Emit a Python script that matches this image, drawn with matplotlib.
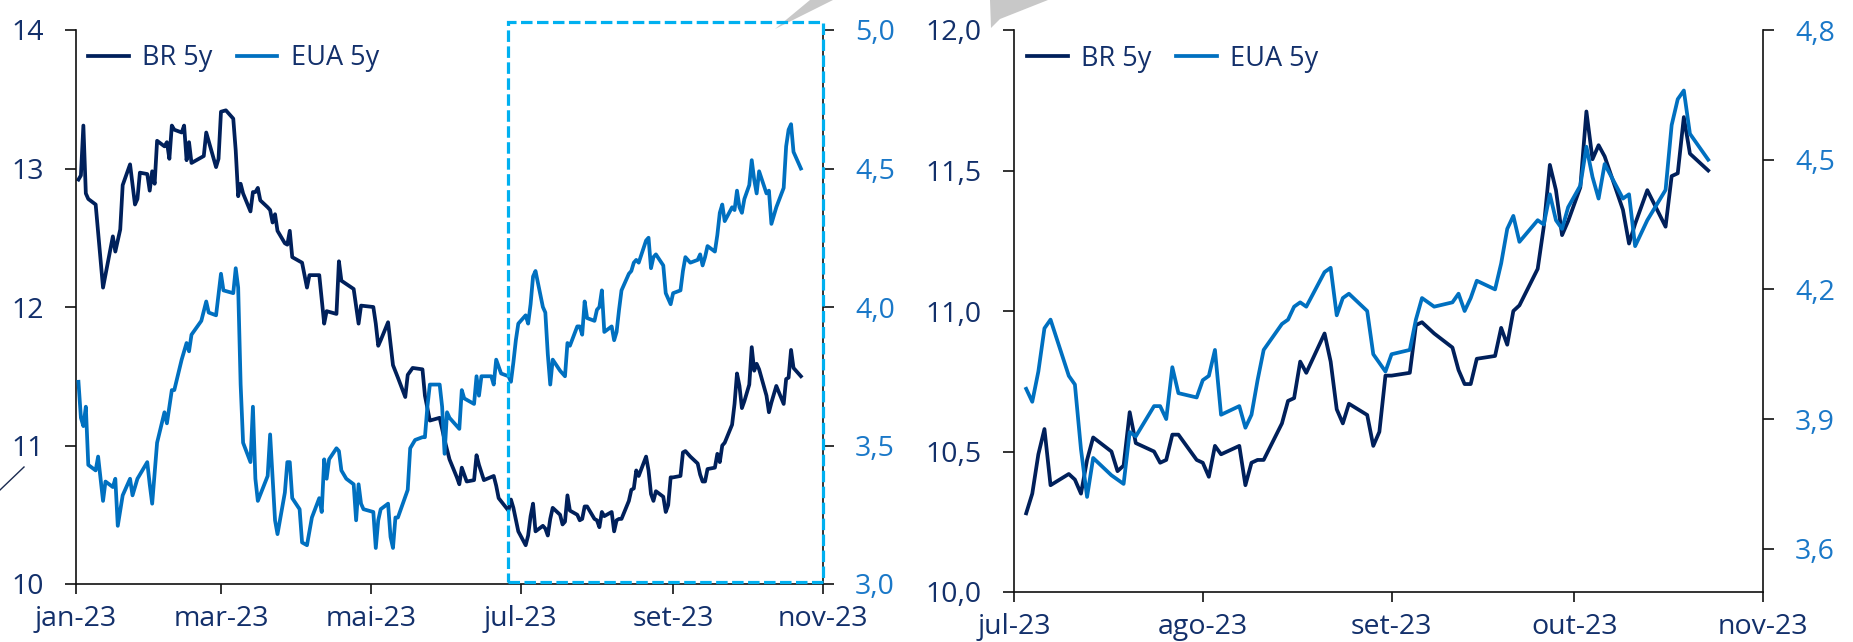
import matplotlib
matplotlib.use('Agg')
import matplotlib.pyplot as plt
from matplotlib.patches import Rectangle, Polygon
from matplotlib.lines import Line2D
import pandas as pd

plt.rcParams['font.family'] = ['Open Sans', 'DejaVu Sans']

NAVY = '#00205B'
BLUE = '#0070C0'
LABEL_NAVY = '#13306B'
LABEL_BLUE = '#1A78C8'
BOX = '#00B0F0'

# ---------------- data: 1st half 2023 (left chart only) ----------------
br_h1_dates = ['2023-01-02', '2023-01-03', '2023-01-04', '2023-01-05', '2023-01-06', '2023-01-09',
               '2023-01-12', '2023-01-16', '2023-01-17', '2023-01-19', '2023-01-20', '2023-01-23',
               '2023-01-25', '2023-01-26', '2023-01-27', '2023-01-30', '2023-01-31', '2023-02-01',
               '2023-02-02', '2023-02-03', '2023-02-06', '2023-02-07', '2023-02-08', '2023-02-09',
               '2023-02-10', '2023-02-13', '2023-02-14', '2023-02-15', '2023-02-16', '2023-02-17',
               '2023-02-22', '2023-02-23', '2023-02-27', '2023-02-28', '2023-03-01', '2023-03-03',
               '2023-03-06', '2023-03-07', '2023-03-08', '2023-03-09', '2023-03-10', '2023-03-13',
               '2023-03-14', '2023-03-15', '2023-03-16', '2023-03-17', '2023-03-20', '2023-03-21',
               '2023-03-22', '2023-03-23', '2023-03-24', '2023-03-27', '2023-03-28', '2023-03-29',
               '2023-03-30', '2023-04-03', '2023-04-05', '2023-04-06', '2023-04-10', '2023-04-12',
               '2023-04-13', '2023-04-17', '2023-04-18', '2023-04-19', '2023-04-24', '2023-04-26',
               '2023-04-27', '2023-05-02', '2023-05-03', '2023-05-04', '2023-05-05', '2023-05-08',
               '2023-05-10', '2023-05-12', '2023-05-15', '2023-05-16', '2023-05-18', '2023-05-22',
               '2023-05-23', '2023-05-25', '2023-05-29', '2023-05-31', '2023-06-02', '2023-06-05',
               '2023-06-06', '2023-06-07', '2023-06-09', '2023-06-12', '2023-06-13', '2023-06-14',
               '2023-06-16', '2023-06-20', '2023-06-21', '2023-06-22', '2023-06-26', '2023-06-27',
               '2023-06-28', '2023-06-30']
br_h1 = [12.92, 12.95, 13.31, 12.82, 12.78, 12.74,
         12.14, 12.51, 12.40, 12.56, 12.88, 13.03,
         12.74, 12.78, 12.97, 12.96, 12.84, 12.98,
         12.89, 13.20, 13.16, 13.19, 13.07, 13.31,
         13.28, 13.26, 13.31, 13.06, 13.19, 13.04,
         13.09, 13.26, 13.01, 13.07, 13.41, 13.42,
         13.36, 13.13, 12.80, 12.89, 12.82, 12.69,
         12.83, 12.83, 12.86, 12.77, 12.72, 12.70,
         12.61, 12.67, 12.55, 12.46, 12.45, 12.55,
         12.36, 12.32, 12.14, 12.23, 12.23, 11.88,
         11.97, 11.95, 12.33, 12.19, 12.13, 11.88,
         12.01, 12.00, 11.88, 11.72, 11.76, 11.89,
         11.58, 11.49, 11.35, 11.51, 11.56, 11.55,
         11.36, 11.18, 11.20, 11.04, 10.90, 10.77,
         10.72, 10.84, 10.74, 10.75, 10.93, 10.86,
         10.75, 10.78, 10.71, 10.62, 10.53, 10.61,
         10.55, 10.38]

eua_h1_dates = ['2023-01-02', '2023-01-03', '2023-01-04', '2023-01-05', '2023-01-06', '2023-01-09',
                '2023-01-10', '2023-01-12', '2023-01-13', '2023-01-16', '2023-01-17', '2023-01-18',
                '2023-01-20', '2023-01-23', '2023-01-24', '2023-01-26', '2023-01-30', '2023-01-31',
                '2023-02-01', '2023-02-03', '2023-02-06', '2023-02-07', '2023-02-09', '2023-02-10',
                '2023-02-13', '2023-02-15', '2023-02-16', '2023-02-17', '2023-02-21', '2023-02-23',
                '2023-02-24', '2023-02-27', '2023-03-01', '2023-03-02', '2023-03-06', '2023-03-07',
                '2023-03-08', '2023-03-09', '2023-03-10', '2023-03-13', '2023-03-14', '2023-03-15',
                '2023-03-16', '2023-03-20', '2023-03-21', '2023-03-23', '2023-03-24', '2023-03-27',
                '2023-03-28', '2023-03-29', '2023-03-30', '2023-04-02', '2023-04-03', '2023-04-05',
                '2023-04-07', '2023-04-10', '2023-04-11', '2023-04-12', '2023-04-13', '2023-04-14',
                '2023-04-17', '2023-04-18', '2023-04-19', '2023-04-21', '2023-04-24', '2023-04-25',
                '2023-04-26', '2023-04-27', '2023-04-28', '2023-05-02', '2023-05-03', '2023-05-04',
                '2023-05-05', '2023-05-08', '2023-05-09', '2023-05-10', '2023-05-11', '2023-05-12',
                '2023-05-16', '2023-05-17', '2023-05-19', '2023-05-22', '2023-05-23', '2023-05-24',
                '2023-05-25', '2023-05-29', '2023-05-30', '2023-05-31', '2023-06-01', '2023-06-02',
                '2023-06-06', '2023-06-07', '2023-06-08', '2023-06-12', '2023-06-13', '2023-06-14',
                '2023-06-15', '2023-06-19', '2023-06-20', '2023-06-21', '2023-06-23', '2023-06-26',
                '2023-06-27', '2023-06-28', '2023-06-29', '2023-06-30']
eua_h1 = [3.73, 3.60, 3.57, 3.64, 3.43, 3.41,
          3.46, 3.30, 3.37, 3.35, 3.38, 3.21,
          3.32, 3.38, 3.32, 3.38, 3.44, 3.36,
          3.29, 3.51, 3.62, 3.58, 3.70, 3.70,
          3.81, 3.87, 3.84, 3.90, 3.95, 4.02,
          3.98, 3.97, 4.12, 4.06, 4.05, 4.14,
          4.07, 3.72, 3.51, 3.44, 3.64, 3.38,
          3.30, 3.39, 3.54, 3.23, 3.18, 3.33,
          3.44, 3.44, 3.31, 3.27, 3.15, 3.14,
          3.24, 3.31, 3.26, 3.45, 3.38, 3.45,
          3.49, 3.48, 3.41, 3.38, 3.36, 3.23,
          3.36, 3.29, 3.27, 3.26, 3.13, 3.23,
          3.27, 3.29, 3.17, 3.13, 3.24, 3.24,
          3.34, 3.49, 3.52, 3.53, 3.53, 3.64,
          3.72, 3.72, 3.64, 3.47, 3.62, 3.60,
          3.56, 3.70, 3.67, 3.65, 3.75, 3.68,
          3.75, 3.75, 3.72, 3.81, 3.76, 3.75,
          3.73, 3.80, 3.88, 3.94]

# ---------------- data: Jul-Oct 2023 (both charts) ----------------
h2_dates = ['2023-07-03', '2023-07-04', '2023-07-05', '2023-07-06', '2023-07-07', '2023-07-10',
            '2023-07-11', '2023-07-12', '2023-07-13', '2023-07-14', '2023-07-17', '2023-07-18',
            '2023-07-19', '2023-07-20', '2023-07-21', '2023-07-24', '2023-07-25', '2023-07-26',
            '2023-07-27', '2023-07-28', '2023-07-31', '2023-08-01', '2023-08-02', '2023-08-03',
            '2023-08-04', '2023-08-07', '2023-08-08', '2023-08-09', '2023-08-10', '2023-08-11',
            '2023-08-14', '2023-08-15', '2023-08-16', '2023-08-17', '2023-08-18', '2023-08-21',
            '2023-08-22', '2023-08-23', '2023-08-24', '2023-08-25', '2023-08-28', '2023-08-29',
            '2023-08-30', '2023-08-31', '2023-09-01', '2023-09-04', '2023-09-05', '2023-09-06',
            '2023-09-08', '2023-09-11', '2023-09-12', '2023-09-13', '2023-09-14', '2023-09-15',
            '2023-09-18', '2023-09-19', '2023-09-20', '2023-09-21', '2023-09-22', '2023-09-25',
            '2023-09-26', '2023-09-27', '2023-09-28', '2023-09-29', '2023-09-30', '2023-10-02',
            '2023-10-03', '2023-10-04', '2023-10-05', '2023-10-06', '2023-10-09', '2023-10-10',
            '2023-10-11', '2023-10-13', '2023-10-16', '2023-10-17', '2023-10-18', '2023-10-19',
            '2023-10-20', '2023-10-23']
br_h2 = [10.28, 10.35, 10.49, 10.58, 10.38, 10.42,
         10.40, 10.35, 10.47, 10.55, 10.50, 10.43,
         10.45, 10.64, 10.53, 10.50, 10.46, 10.47,
         10.56, 10.56, 10.47, 10.46, 10.41, 10.52,
         10.49, 10.52, 10.38, 10.46, 10.47, 10.47,
         10.60, 10.68, 10.69, 10.82, 10.78, 10.92,
         10.82, 10.65, 10.60, 10.67, 10.63, 10.52,
         10.57, 10.77, 10.77, 10.78, 10.95, 10.96,
         10.92, 10.87, 10.79, 10.74, 10.74, 10.83,
         10.84, 10.94, 10.88, 11.00, 11.02, 11.15,
         11.30, 11.52, 11.43, 11.27, 11.32, 11.44,
         11.71, 11.54, 11.59, 11.55, 11.36, 11.24,
         11.31, 11.43, 11.30, 11.48, 11.49, 11.69,
         11.56, 11.50]
eua_h2 = [3.97, 3.94, 4.01, 4.11, 4.13, 4.00,
          3.98, 3.83, 3.72, 3.81, 3.77, 3.76,
          3.75, 3.87, 3.86, 3.93, 3.93, 3.90,
          4.02, 3.96, 3.95, 3.99, 4.00, 4.06,
          3.91, 3.93, 3.88, 3.91, 3.99, 4.06,
          4.12, 4.13, 4.16, 4.17, 4.16, 4.24,
          4.25, 4.14, 4.18, 4.19, 4.15, 4.05,
          4.03, 4.01, 4.05, 4.06, 4.13, 4.18,
          4.16, 4.17, 4.19, 4.15, 4.18, 4.22,
          4.20, 4.26, 4.34, 4.37, 4.31, 4.36,
          4.35, 4.42, 4.36, 4.34, 4.39, 4.44,
          4.53, 4.46, 4.41, 4.49, 4.41, 4.42,
          4.30, 4.36, 4.43, 4.58, 4.64, 4.66,
          4.56, 4.50]

series_names = ['BR 5y', 'EUA 5y']

# axis ticks / labels
left_xticks = ['2023-01-01', '2023-03-01', '2023-05-01', '2023-07-01', '2023-09-01', '2023-11-01']
left_xlabels = ['jan-23', 'mar-23', 'mai-23', 'jul-23', 'set-23', 'nov-23']
left_y1_ticks = [10, 11, 12, 13, 14]
left_y1_labels = ['10', '11', '12', '13', '14']
left_y2_ticks = [3.0, 3.5, 4.0, 4.5, 5.0]
left_y2_labels = ['3,0', '3,5', '4,0', '4,5', '5,0']

right_xticks = ['2023-07-01', '2023-08-01', '2023-09-01', '2023-10-01', '2023-11-01']
right_xlabels = ['jul-23', 'ago-23', 'set-23', 'out-23', 'nov-23']
right_y1_ticks = [10.0, 10.5, 11.0, 11.5, 12.0]
right_y1_labels = ['10,0', '10,5', '11,0', '11,5', '12,0']
right_y2_ticks = [3.6, 3.9, 4.2, 4.5, 4.8]
right_y2_labels = ['3,6', '3,9', '4,2', '4,5', '4,8']

# ---------------- figure ----------------
W, H = 1853, 642
fig = plt.figure(figsize=(W / 100, H / 100), dpi=100)

FS = 20.5
FS_LEG = 19.5
LW = 2.7
SPW = 1.2


def px_rect(x0, y0, x1, y1):
    return [x0 / W, 1 - y1 / H, (x1 - x0) / W, (y1 - y0) / H]


def style(ax, ax2, xticks, xlabels, y1t, y1l, y2t, y2l):
    for s in ['top', 'right']:
        ax.spines[s].set_visible(False)
    for s in ['top', 'left', 'bottom']:
        ax2.spines[s].set_visible(False)
    for s in ['left', 'bottom']:
        ax.spines[s].set_linewidth(SPW)
        ax.spines[s].set_color('#111111')
    ax2.spines['right'].set_linewidth(SPW)
    ax2.spines['right'].set_color('#111111')
    ax.set_xticks(pd.to_datetime(xticks))
    ax.set_xticklabels(xlabels)
    ax.set_yticks(y1t)
    ax.set_yticklabels(y1l)
    ax2.set_yticks(y2t)
    ax2.set_yticklabels(y2l)
    ax.tick_params(axis='x', direction='out', length=7, width=SPW, pad=8,
                   labelsize=FS, labelcolor=LABEL_NAVY, color='#111111')
    ax.tick_params(axis='y', direction='out', length=8, width=SPW, pad=15,
                   labelsize=FS, labelcolor=LABEL_NAVY, color='#111111')
    ax2.tick_params(axis='y', direction='out', length=8, width=SPW, pad=15,
                    labelsize=FS, labelcolor=LABEL_BLUE, color='#111111')
    ax.patch.set_visible(False)


# ---- left chart ----
axL = fig.add_axes(px_rect(76, 30, 823, 584))
axL2 = axL.twinx()
br_all_dates = pd.to_datetime(br_h1_dates + h2_dates)
eua_all_dates = pd.to_datetime(eua_h1_dates + h2_dates)
l1, = axL.plot(br_all_dates, br_h1 + br_h2, color=NAVY, lw=LW, label=series_names[0],
               solid_joinstyle='round')
l2, = axL2.plot(eua_all_dates, eua_h1 + eua_h2, color=BLUE, lw=LW, label=series_names[1],
                solid_joinstyle='round')
axL.set_xlim(pd.Timestamp('2023-01-01'), pd.Timestamp('2023-11-01'))
axL.set_ylim(10, 14)
axL2.set_ylim(3.0, 5.0)
style(axL, axL2, left_xticks, left_xlabels, left_y1_ticks, left_y1_labels,
      left_y2_ticks, left_y2_labels)
axL2.legend([l1, l2], series_names, loc='center left', bbox_to_anchor=(0.016, 0.949),
            frameon=False, fontsize=FS_LEG, labelcolor=LABEL_NAVY, ncol=2,
            handlelength=1.5, handletextpad=0.5, columnspacing=0.9,
            borderpad=0, borderaxespad=0)

# ---- right chart ----
axR = fig.add_axes(px_rect(1014, 30, 1763, 592))
axR2 = axR.twinx()
d2 = pd.to_datetime(h2_dates)
r1, = axR.plot(d2, br_h2, color=NAVY, lw=LW, label=series_names[0], solid_joinstyle='round')
r2, = axR2.plot(d2, eua_h2, color=BLUE, lw=LW, label=series_names[1], solid_joinstyle='round')
axR.set_xlim(pd.Timestamp('2023-07-01'), pd.Timestamp('2023-11-01'))
axR.set_ylim(10.0, 12.0)
axR2.set_ylim(3.5, 4.8)
style(axR, axR2, right_xticks, right_xlabels, right_y1_ticks, right_y1_labels,
      right_y2_ticks, right_y2_labels)
axR2.legend([r1, r2], series_names, loc='center left', bbox_to_anchor=(0.0174, 0.949),
            frameon=False, fontsize=FS_LEG, labelcolor=LABEL_NAVY, ncol=2,
            handlelength=1.5, handletextpad=0.5, columnspacing=0.9,
            borderpad=0, borderaxespad=0)

# ---- decorations: dashed zoom box, callout arrow pieces, small stroke ----
bx0, by0, bx1, by1 = 508, 22, 823, 582
fig.patches.append(Rectangle((bx0 / W, 1 - by1 / H), (bx1 - bx0) / W, (by1 - by0) / H,
                             transform=fig.transFigure, fill=False, edgecolor=BOX,
                             lw=2.3, linestyle=(0, (3.6, 1.4)), zorder=10))


def fig_pts(pts):
    return [(x / W, 1 - y / H) for x, y in pts]


fig.patches.append(Polygon(fig_pts([(775, 29), (810, 0), (833, 0)]), closed=True,
                           transform=fig.transFigure, facecolor='#C8C8C8',
                           edgecolor='none', zorder=9))
fig.patches.append(Polygon(fig_pts([(991, 28), (990, 0), (1048, 0), (1000, 19)]), closed=True,
                           transform=fig.transFigure, facecolor='#C8C8C8',
                           edgecolor='none', zorder=9))
fig.lines.append(Line2D([0 / W, 24 / W], [1 - 490 / H, 1 - 467 / H],
                        transform=fig.transFigure, color='#1a2a50', lw=1.0))

fig.savefig('out.png', dpi=100)
